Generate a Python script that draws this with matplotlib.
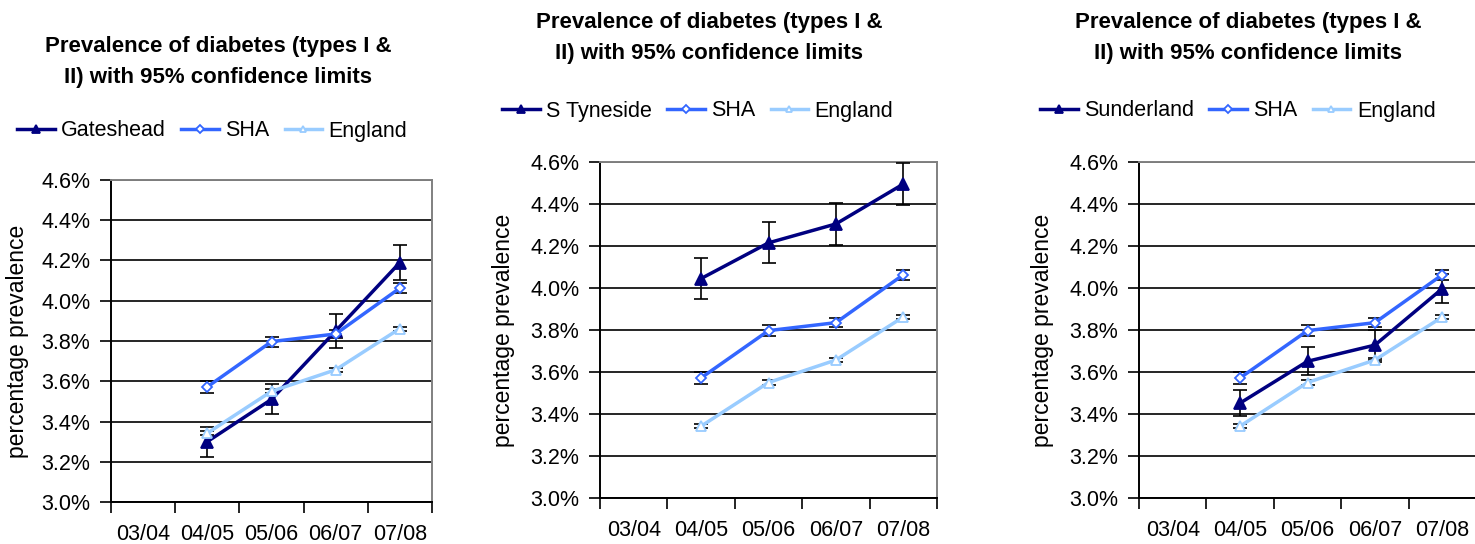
import matplotlib.pyplot as plt
import numpy as np

plt.rcParams['font.family'] = ['Liberation Sans', 'DejaVu Sans']

years = ['03/04', '04/05', '05/06', '06/07', '07/08']
# data exists only for 04/05 .. 07/08
data_years = ['04/05', '05/06', '06/07', '07/08']

gateshead = [3.30, 3.51, 3.85, 4.19]
gateshead_err = [0.075, 0.075, 0.083, 0.085]
s_tyneside = [4.045, 4.215, 4.305, 4.495]
s_tyneside_err = [0.098, 0.098, 0.10, 0.10]
sunderland = [3.452, 3.651, 3.728, 3.997]
sunderland_err = [0.062, 0.066, 0.07, 0.07]

sha = [3.572, 3.797, 3.835, 4.063]
sha_err = [0.028, 0.025, 0.022, 0.024]
england = [3.342, 3.550, 3.657, 3.862]
england_err = [0.01, 0.01, 0.01, 0.01]

local_names = ['Gateshead', 'S Tyneside', 'Sunderland']
local_vals = [gateshead, s_tyneside, sunderland]
local_errs = [gateshead_err, s_tyneside_err, sunderland_err]

title = 'Prevalence of diabetes (types I &\nII) with 95% confidence limits'

W, H = 1475, 544
fig = plt.figure(figsize=(W / 100, H / 100), dpi=100)

# pixel boxes: left, right, top, bottom
boxes = [(111, 432, 180, 502), (600, 937, 162, 498), (1139, 1476, 162, 498)]
title_pos = [(218, 62), (709, 38), (1248, 38)]
legend_pos = [(17, 131), (502, 111), (1040, 111)]
ylabel_x = [29, 515, 1054]

NAVY = '#000080'
SHA_C = '#3366FF'
ENG_C = '#99CCFF'
FS = 15.5

x_idx = np.array([years.index(y) for y in data_years])

for i in range(3):
    l, r, t, b = boxes[i]
    ax = fig.add_axes([l / W, (H - b) / H, (r - l) / W, (b - t) / H])
    ax.set_xlim(-0.5, len(years) - 0.5)
    ax.set_ylim(3.0, 4.6)

    lines = []
    for vals, errs, color, mk, mfc, ms, name in [
        (local_vals[i], local_errs[i], NAVY, '^', NAVY, 8, local_names[i]),
        (sha, sha_err, SHA_C, 'D', 'white', 5.5, 'SHA'),
        (england, england_err, ENG_C, '^', 'white', 7, 'England'),
    ]:
        ax.errorbar(x_idx, vals, yerr=errs, fmt='none', ecolor='black',
                    elinewidth=1.2, capsize=5, capthick=1.2, zorder=3)
        ln, = ax.plot(x_idx, vals, color=color, lw=2.5, marker=mk, ms=ms,
                      mfc=mfc, mec=color, mew=1.3, label=name, zorder=4)
        lines.append(ln)

    # y axis
    yt = np.arange(3.0, 4.61, 0.2)
    ax.set_yticks(yt)
    ax.set_yticklabels(['%.1f%%' % v for v in yt], fontsize=FS)
    ax.grid(axis='y', color='black', lw=1.2)
    ax.set_axisbelow(True)
    ax.tick_params(axis='y', length=8, width=1.2, pad=7, direction='out')

    # x axis: ticks at category boundaries, labels at centres
    ax.set_xticks(np.arange(-0.5, len(years), 1.0))
    ax.set_xticklabels([''] * (len(years) + 1))
    ax.set_xticks(np.arange(len(years)), minor=True)
    ax.set_xticklabels(years, minor=True, fontsize=FS)
    ax.tick_params(axis='x', which='major', length=8, width=1.2, direction='out')
    ax.tick_params(axis='x', which='minor', length=0, pad=16)

    for s in ['left', 'bottom']:
        ax.spines[s].set_color('black')
        ax.spines[s].set_linewidth(1.4)
    for s in ['top', 'right']:
        ax.spines[s].set_color('#808080')
        ax.spines[s].set_linewidth(1.4)

    ax.set_ylabel('percentage prevalence', fontsize=16.5)
    ax.yaxis.set_label_coords(ylabel_x[i] / W, 0.5 * ((H - b) + (H - t)) / H,
                              transform=fig.transFigure)

    tx, ty = title_pos[i]
    fig.text(tx / W, 1 - ty / H, title, ha='center', va='center',
             fontsize=16, fontweight='bold', linespacing=1.6)

    lx, ly = legend_pos[i]
    ax.legend(handles=lines, ncol=3, loc='center left',
              bbox_to_anchor=(lx / W, 1 - ly / H), bbox_transform=fig.transFigure,
              frameon=False, fontsize=FS, handlelength=1.75, handletextpad=0.3,
              columnspacing=0.7, borderpad=0, borderaxespad=0, markerscale=0.7)

fig.savefig('out.png', dpi=100)
